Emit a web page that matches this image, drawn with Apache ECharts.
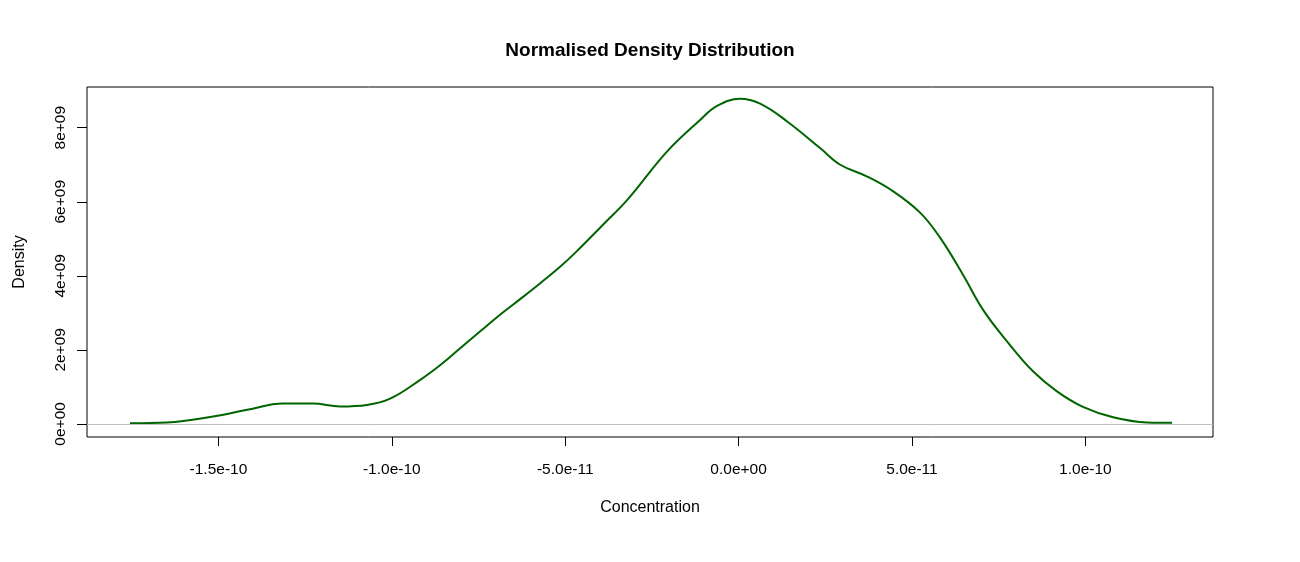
<!DOCTYPE html>
<html>
<head>
<meta charset="utf-8">
<script src="https://cdn.jsdelivr.net/npm/echarts@6/dist/echarts.min.js"></script>
<style>
  html, body { margin: 0; padding: 0; background: #fff; }
  #chart { width: 1300px; height: 562px; }
</style>
</head>
<body>
<div id="chart"></div>
<script>
'use strict';

// density curve
const concentration = [
  -1.755e-10, -1.648e-10, -1.515e-10, -1.417e-10, -1.313e-10, -1.228e-10, -1.149e-10,
  -1.072e-10, -1.005e-10, -0.918e-10, -0.860e-10, -0.808e-10, -0.745e-10, -0.688e-10,
  -0.630e-10, -0.572e-10, -0.514e-10, -0.467e-10, -0.391e-10, -0.321e-10, -0.206e-10,
  -0.111e-10, -0.062e-10, 0.004e-10, 0.062e-10, 0.140e-10, 0.235e-10, 0.293e-10,
  0.371e-10, 0.446e-10, 0.524e-10, 0.581e-10, 0.647e-10, 0.705e-10, 0.774e-10,
  0.849e-10, 0.918e-10, 0.993e-10, 1.080e-10, 1.178e-10, 1.250e-10
];
const density = [
  0.02e9, 0.04e9, 0.20e9, 0.38e9, 0.55e9, 0.55e9, 0.47e9,
  0.51e9, 0.68e9, 1.19e9, 1.59e9, 2.00e9, 2.50e9, 2.95e9,
  3.37e9, 3.80e9, 4.25e9, 4.66e9, 5.38e9, 6.05e9, 7.36e9,
  8.21e9, 8.59e9, 8.78e9, 8.65e9, 8.17e9, 7.45e9, 7.00e9,
  6.68e9, 6.28e9, 5.70e9, 5.03e9, 4.03e9, 3.08e9, 2.23e9,
  1.42e9, 0.88e9, 0.46e9, 0.18e9, 0.04e9, 0.03e9
];

const xTicks = [-1.5e-10, -1.0e-10, -5.0e-11, 0, 5.0e-11, 1.0e-10];
const xTickLabels = ['-1.5e-10', '-1.0e-10', '-5.0e-11', '0.0e+00', '5.0e-11', '1.0e-10'];
const yTicks = [0, 2e9, 4e9, 6e9, 8e9];
const yTickLabels = ['0e+00', '2e+09', '4e+09', '6e+09', '8e+09'];

const font = 'Liberation Sans, Arial, sans-serif';

function labelFor(ticks, labels) {
  return function (v) {
    for (let i = 0; i < ticks.length; i++) {
      if (Math.abs(v - ticks[i]) <= Math.abs(ticks[1] - ticks[0]) * 1e-6) return labels[i];
    }
    return '';
  };
}

const chart = echarts.init(document.getElementById('chart'), null, { renderer: 'canvas' });
chart.setOption({
  animation: false,
  title: {
    text: 'Normalised Density Distribution',
    left: 'center',
    top: 36,
    textStyle: { fontFamily: font, fontSize: 19, fontWeight: 'bold', color: '#000' }
  },
  grid: {
    left: 87, right: 87, top: 87, bottom: 125,
    show: true, borderColor: '#000', borderWidth: 1, backgroundColor: 'transparent'
  },
  xAxis: {
    type: 'value',
    min: -1.879e-10,
    max: 1.368e-10,
    name: 'Concentration',
    nameLocation: 'middle',
    nameGap: 63,
    nameTextStyle: { fontFamily: font, fontSize: 16, color: '#000' },
    axisLine: { show: false, onZero: false },
    axisTick: { show: true, inside: false, length: 9, customValues: xTicks, lineStyle: { color: '#000' } },
    axisLabel: {
      customValues: xTicks,
      formatter: labelFor(xTicks, xTickLabels),
      margin: 25,
      fontFamily: font, fontSize: 15.5, color: '#000'
    },
    splitLine: { show: false }
  },
  yAxis: {
    type: 'value',
    min: -0.354e9,
    max: 9.10e9,
    name: 'Density',
    nameLocation: 'middle',
    nameGap: 59,
    nameTextStyle: { fontFamily: font, fontSize: 16, color: '#000' },
    axisLine: { show: false, onZero: false },
    axisTick: { show: true, inside: false, length: 10, customValues: yTicks, lineStyle: { color: '#000' } },
    axisLabel: {
      customValues: yTicks,
      formatter: labelFor(yTicks, yTickLabels),
      rotate: 90,
      margin: 18,
      fontFamily: font, fontSize: 15.5, color: '#000'
    },
    splitLine: { show: false }
  },
  series: [{
    type: 'line',
    data: concentration.map((x, i) => [x, density[i]]),
    smooth: 0.4,
    showSymbol: false,
    lineStyle: { color: '#006400', width: 2 },
    markLine: {
      silent: true,
      symbol: 'none',
      label: { show: false },
      lineStyle: { color: '#bebebe', type: 'solid', width: 1 },
      data: [{ yAxis: 0 }]
    },
    z: 3
  }]
});
</script>
</body>
</html>
